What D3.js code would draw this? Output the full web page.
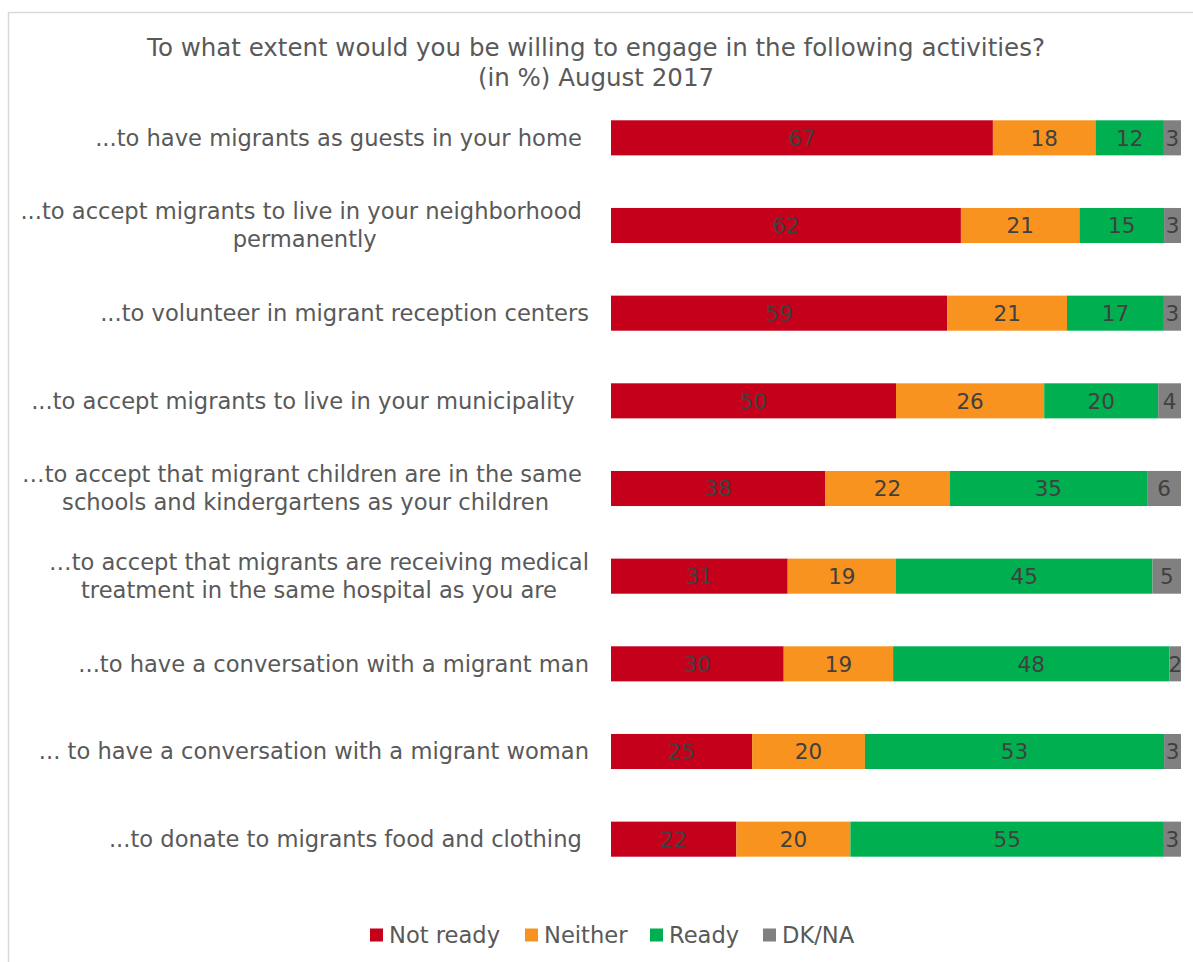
<!DOCTYPE html>
<html>
<head>
<meta charset="utf-8">
<script src="https://cdn.jsdelivr.net/npm/d3@7"></script>
<style>
  html, body { margin: 0; padding: 0; background: #fff; }
  svg { display: block; font-family: "DejaVu Sans", sans-serif; }
  text { white-space: pre; }
</style>
</head>
<body>
<svg id="chart" width="1193" height="962"></svg>
<script>
// Survey items (lines of each wrapped label)
const categories = [
  ["...to have migrants as guests in your home "],
  ["...to accept migrants to live in your neighborhood ", "permanently"],
  ["...to volunteer in migrant reception centers"],
  ["...to accept migrants to live in your municipality  "],
  ["\u2026to accept that migrant children are in the same ", "schools and kindergartens as your children"],
  ["\u2026to accept that migrants are receiving medical", "treatment in the same hospital as you are"],
  ["...to have a conversation with a migrant man"],
  ["... to have a conversation with a migrant woman"],
  ["...to donate to migrants food and clothing "]
];
const seriesNames = ["Not ready", "Neither", "Ready", "DK/NA"];
const notReady = [67, 62, 59, 50, 38, 31, 30, 25, 22];
const neither  = [18, 21, 21, 26, 22, 19, 19, 20, 20];
const ready    = [12, 15, 17, 20, 35, 45, 48, 53, 55];
const dkna     = [3, 3, 3, 4, 6, 5, 2, 3, 3];
const colors = ["#C4001A", "#F7931E", "#00AF50", "#808080"];
const titleLines = ["To what extent would you be willing to engage in the following activities?", "(in %) August 2017"];

const rows = categories.map((c, i) => ({
  key: i,
  "Not ready": notReady[i], "Neither": neither[i], "Ready": ready[i], "DK/NA": dkna[i]
}));

const svg = d3.select("#chart");
const W = 1193, H = 962;

// chart area frame
svg.append("rect")
  .attr("x", 8.5).attr("y", 12.5).attr("width", W + 10).attr("height", H + 10)
  .attr("fill", "#fff").attr("stroke", "#D9D9D9").attr("stroke-width", 1.5);

// title
svg.append("g").selectAll("text").data(titleLines).join("text")
  .attr("x", 596).attr("y", (d, i) => 56 + i * 30)
  .attr("text-anchor", "middle")
  .attr("font-size", 24.5).attr("fill", "#595959")
  .text(d => d);

// 100% stacked layout
const stack = d3.stack().keys(seriesNames).offset(d3.stackOffsetExpand);
const layers = stack(rows);

const x = d3.scaleLinear().domain([0, 1]).range([611, 1181]);
const y = d3.scaleBand().domain(rows.map(r => r.key)).range([94, 883]).paddingInner(0.6).paddingOuter(0.3);

const g = svg.append("g");
const layerG = g.selectAll("g.layer").data(layers).join("g")
  .attr("class", "layer").attr("fill", (d, i) => colors[i]);

layerG.selectAll("rect").data(d => d).join("rect")
  .attr("x", d => x(d[0]))
  .attr("y", d => y(d.data.key))
  .attr("width", d => x(d[1]) - x(d[0]))
  .attr("height", y.bandwidth());

// value labels
layerG.each(function(layer) {
  d3.select(this).selectAll("text").data(layer).join("text")
    .attr("x", d => (x(d[0]) + x(d[1])) / 2)
    .attr("y", d => y(d.data.key) + y.bandwidth() / 2)
    .attr("dy", "0.36em")
    .attr("text-anchor", "middle")
    .attr("font-size", 21.5)
    .attr("fill", "#404040")
    .text(d => d.data[layer.key]);
});

// category labels: block right-aligned, lines centred within block
const labelRight = 589, lineH = 28;
const catG = svg.append("g");
categories.forEach((lines, i) => {
  const cy = y(i) + y.bandwidth() / 2;
  const grp = catG.append("g");
  const texts = lines.map((ln, j) => grp.append("text")
    .attr("font-size", 22.6).attr("fill", "#595959")
    .attr("text-anchor", "middle")
    .attr("y", cy + (j - (lines.length - 1) / 2) * lineH)
    .attr("dy", "0.35em")
    .text(ln));
  const widths = texts.map(t => t.node().getComputedTextLength());
  const bw = d3.max(widths);
  texts.forEach(t => t.attr("x", labelRight - bw / 2));
});

// legend
const legendX = [370, 525, 650, 763];
const legend = svg.append("g").selectAll("g").data(seriesNames).join("g")
  .attr("transform", (d, i) => `translate(${legendX[i]},935)`);
legend.append("rect").attr("x", 0).attr("y", -6.5).attr("width", 13).attr("height", 13)
  .attr("fill", (d, i) => colors[i]);
legend.append("text").attr("x", 19).attr("dy", "0.36em")
  .attr("font-size", 22.6).attr("fill", "#595959").text(d => d);
</script>
</body>
</html>
